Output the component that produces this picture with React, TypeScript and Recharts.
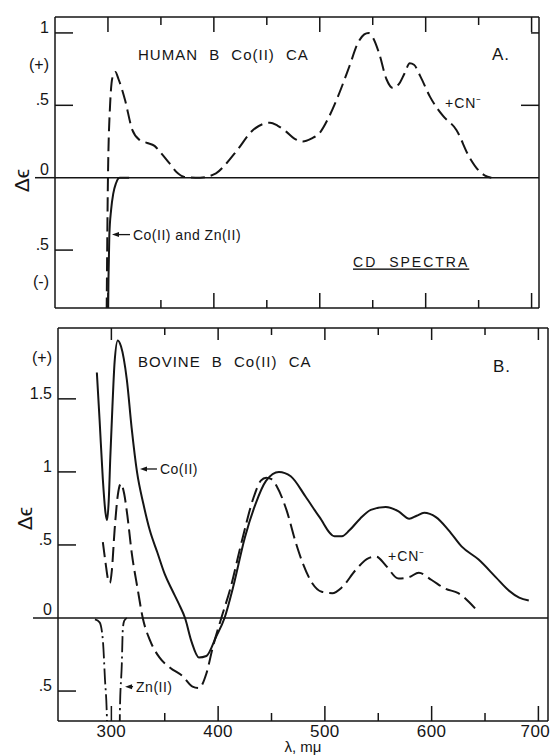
import { Line, LineChart, ReferenceDot, ReferenceLine, XAxis, YAxis } from "recharts";

const FONT = '"Liberation Sans", Arial, sans-serif';
const INK = "#151515";

// wavelength ticks (mμ), shared by both panels
const WL_TICKS = [300, 350, 400, 450, 500, 550, 600, 650, 700];
const [W300, W350, W400, W450, W500, W550, W600, W650, W700] = WL_TICKS;

// --- panel A: human B Co(II) CA ---
const A_Y_TICKS = [1, 0.78, 0.5, 0, -0.5, -0.72];
const A_Y_LABELS = ["1", "(+)", ".5", "0", ".5", "(-)"];

// + CN- (dashed)
const A_CN_WL = [298.5, 300, 302, 304.5, 307, 310, 316, 323, 330, 337, 344, 349, 358, 366, 372, 387, 402, 412, 422, 437, 446, 453, 460, 468, 476, 484, 492, 500, 508, 516, 528, 536, 542, 546, 550, 556, 563, 569, 575, 580, 585, 589, 595, 604, 616, 629, 641, 650, 656, 662];
const A_CN_DE = [-1.2, 0, 0.5, 0.7, 0.73, 0.68, 0.54, 0.33, 0.26, 0.24, 0.22, 0.18, 0.1, 0.03, 0.005, 0, 0.03, 0.1, 0.19, 0.33, 0.37, 0.38, 0.36, 0.32, 0.27, 0.25, 0.27, 0.31, 0.41, 0.54, 0.77, 0.93, 0.99, 1.0, 0.97, 0.86, 0.68, 0.62, 0.65, 0.72, 0.79, 0.78, 0.7, 0.56, 0.43, 0.33, 0.145, 0.05, 0.015, 0];

// Co(II) and Zn(II) (solid)
const A_MET_WL = [299.8, 300.5, 301.3, 303, 305, 307.5, 311, 320];
const A_MET_DE = [-1.2, -0.7, -0.4, -0.22, -0.11, -0.04, 0, 0];

// --- panel B: bovine B Co(II) CA ---
const B_Y_TICKS = [1.78, 1.5, 1, 0.5, 0, -0.5];
const B_Y_LABELS = ["(+)", "1.5", "1", ".5", "0", ".5"];

// Co(II) (solid)
const B_CO_WL = [286.4, 289, 292, 294.5, 296, 297.5, 299, 301, 303, 306, 309, 314.5, 319, 324, 330, 336, 343, 350, 357, 363, 369, 375, 382, 389, 398, 406, 414, 425, 435, 445, 457, 468, 482, 495, 509, 516, 523, 533, 543, 557, 569, 579, 586, 593, 604, 616, 628, 644, 660, 672, 682, 691];
const B_CO_DE = [1.68, 1.35, 0.95, 0.72, 0.67, 0.8, 1.1, 1.45, 1.75, 1.9, 1.86, 1.63, 1.3, 1.0, 0.78, 0.6, 0.45, 0.3, 0.19, 0.1, 0, -0.16, -0.27, -0.26, -0.13, 0, 0.21, 0.55, 0.78, 0.94, 1.0, 0.97, 0.83, 0.69, 0.56, 0.56, 0.6, 0.68, 0.74, 0.76, 0.73, 0.68, 0.7, 0.72, 0.69, 0.6, 0.49, 0.4, 0.28, 0.19, 0.14, 0.12];

// Co(II) + CN- (dashed)
const B_CN_WL = [292, 294.5, 297, 298.6, 300.5, 303, 306, 309, 312, 315, 319, 324.8, 329.4, 336, 345, 355, 367, 376, 382, 389, 395, 403, 411, 423, 433, 440, 445, 450, 455, 464, 473, 479, 488, 497, 507, 516, 529, 541, 548, 557, 569, 579, 588, 600, 613, 625, 635, 642];
const B_CN_DE = [0.52, 0.38, 0.26, 0.24, 0.33, 0.6, 0.84, 0.92, 0.85, 0.7, 0.45, 0.19, 0, -0.15, -0.27, -0.34, -0.4, -0.47, -0.48, -0.38, -0.2, 0, 0.19, 0.55, 0.82, 0.94, 0.96, 0.95, 0.9, 0.74, 0.51, 0.38, 0.24, 0.18, 0.17, 0.21, 0.33, 0.41, 0.42, 0.36, 0.27, 0.28, 0.31, 0.26, 0.2, 0.17, 0.11, 0.055];

// Zn(II) (dash-dot)
const B_ZN_WL = [284.6, 289, 292, 294, 295.8, 297.5, 307, 308, 309.8, 310.7, 312, 314.5];
const B_ZN_DE = [-0.01, -0.03, -0.15, -0.42, -0.68, -1.5, -1.5, -0.63, -0.31, -0.08, -0.02, 0];

const pts = (wl: number[], de: number[]) => wl.map((w, i) => ({ wl: w, de: de[i] }));

const txt = { fontFamily: FONT, fill: INK } as const;

// bottom axis: inward mark, label only on the hundreds (panel B)
function WlTick({ x, y, payload, labels }: any) {
  const px = Number(x);
  const py = Number(y);
  const big = payload.value % 100 === 0;
  return (
    <g>
      <line x1={px} x2={px} y1={py} y2={py - (big ? 15 : 8)} stroke={INK} strokeWidth={1.5} />
      {labels && big && (
        <text x={px} y={py + 16} dx={payload.value === 700 ? -3 : 0} textAnchor="middle" fontSize={17} letterSpacing={0.5} {...txt}>
          {payload.value}
        </text>
      )}
    </g>
  );
}

function DeTick({ x, y, payload, ticks, labels, zeroExt }: any) {
  const label = labels[ticks.indexOf(payload.value)];
  const paren = label.startsWith("(");
  const zero = payload.value === 0;
  const px = Number(x);
  const py = Number(y);
  return (
    <g>
      {zero && <line x1={px - zeroExt} x2={px} y1={py} y2={py} stroke={INK} strokeWidth={1.5} />}
      {!zero && !paren && <line x1={px} x2={px + 18} y1={py} y2={py} stroke={INK} strokeWidth={1.5} />}
      <text x={px - 6} y={zero ? py - 3 : paren ? py + 5 : py} textAnchor="end" fontSize={16} {...txt}>
        {label}
      </text>
    </g>
  );
}

// inward marks on the top frame edge (and right edge for horizontal ones)
const topMark = (len: number) => (p: any) => {
  const hi = Math.min(p.y1, p.y2);
  return <line x1={p.x1} x2={p.x1} y1={hi} y2={hi + len} stroke={INK} strokeWidth={1.5} />;
};
const rightMark = (len: number) => (p: any) => {
  const r = Math.max(p.x1, p.x2);
  return <line x1={r - len} x2={r} y1={p.y1} y2={p.y1} stroke={INK} strokeWidth={1.5} />;
};

function DeTitle({ viewBox, dy }: any) {
  const cx = viewBox.x + viewBox.width - 34;
  const cy = viewBox.y + viewBox.height / 2 + dy;
  return (
    <text transform={`translate(${cx},${cy}) rotate(-90)`} textAnchor="middle" dominantBaseline="central" fontSize={21} {...txt}>
      Δϵ
    </text>
  );
}

function WlTitle({ viewBox }: any) {
  return (
    <text x={viewBox.x + viewBox.width / 2} y={viewBox.y + 31} textAnchor="middle" fontSize={15} {...txt}>
      λ, mμ
    </text>
  );
}

const note = (text: string, size = 15, extra: any = {}) => (p: any) => (
  <text x={p.cx} y={p.cy} fontSize={size} letterSpacing={1} {...txt} {...extra}>
    {text}
  </text>
);

const arrow = (text: string) => (p: any) => (
  <g>
    <line x1={p.x1 + 6} y1={p.y1} x2={p.x2} y2={p.y2} stroke={INK} strokeWidth={1.3} />
    <polygon points={`${p.x1},${p.y1} ${p.x1 + 7},${p.y1 - 2.5} ${p.x1 + 7},${p.y1 + 2.5}`} fill={INK} />
    <text x={p.x2 + 3} y={p.y2 + 5} fontSize={14} letterSpacing={0.5} {...txt}>
      {text}
    </text>
  </g>
);

const axisLine = { stroke: INK, strokeWidth: 1.5 };
const lineBase = { type: "monotone" as const, dataKey: "de", dot: false, stroke: INK, strokeWidth: 2, isAnimationActive: false };
// bottom/left axes are 1px thick so they still render; margins are trimmed by that pixel
const axisX = { type: "number" as const, dataKey: "wl", ticks: WL_TICKS, height: 1, tickSize: 0, tickMargin: 0, allowDataOverflow: true, axisLine };
const axisY = { type: "number" as const, width: 1, tickSize: 0, tickMargin: 0, allowDataOverflow: true, axisLine };

const A_BIG = topMark(15);
const A_SMALL = topMark(8);
const B_BIG = topMark(12);
const B_SMALL = topMark(7);

function PanelA() {
  const xd: [number, number] = [250, 707];
  const yd: [number, number] = [-0.9, 1.11];
  return (
    <LineChart width={553} height={318} margin={{ top: 17, right: 14, bottom: 9, left: 54 }}>
      <XAxis {...axisX} domain={xd} tick={(p: any) => <WlTick {...p} />} />
      <YAxis {...axisY} domain={yd} ticks={A_Y_TICKS}
        tick={(p: any) => <DeTick {...p} ticks={A_Y_TICKS} labels={A_Y_LABELS} zeroExt={20} />}
        label={<DeTitle dy={18} />} />
      <ReferenceLine y={yd[1]} ifOverflow="visible" stroke={INK} strokeWidth={1.5} />
      <ReferenceLine x={xd[1]} ifOverflow="visible" stroke={INK} strokeWidth={1.5} />
      <ReferenceLine x={W300} shape={A_BIG} />
      <ReferenceLine x={W350} shape={A_SMALL} />
      <ReferenceLine x={W400} shape={A_BIG} />
      <ReferenceLine x={W450} shape={A_SMALL} />
      <ReferenceLine x={W500} shape={A_BIG} />
      <ReferenceLine x={W550} shape={A_SMALL} />
      <ReferenceLine x={W600} shape={A_BIG} />
      <ReferenceLine x={W650} shape={A_SMALL} />
      <ReferenceLine x={W700} shape={A_BIG} />
      <ReferenceLine y={1} shape={rightMark(8)} />
      <ReferenceLine y={0.5} shape={rightMark(18)} />
      <ReferenceLine y={0} stroke={INK} strokeWidth={1.5} />
      <Line {...lineBase} data={pts(A_CN_WL, A_CN_DE)} strokeDasharray="14 6" />
      <Line {...lineBase} data={pts(A_MET_WL, A_MET_DE)} />
      <ReferenceDot x={328.4} y={0.814} r={0} shape={note("HUMAN B Co(II) CA", 15, { wordSpacing: 6 })} />
      <ReferenceDot x={662.6} y={0.814} r={0} shape={note("A.", 17)} />
      <ReferenceDot x={618.3} y={0.48} r={0} shape={note("+CN⁻", 14)} />
      <ReferenceDot x={531.4} y={-0.62} r={0} shape={note("CD SPECTRA", 14, { letterSpacing: 2, wordSpacing: 6, textDecoration: "underline" })} />
      <ReferenceLine segment={[{ x: 303.8, y: -0.393 }, { x: 320.8, y: -0.393 }]} shape={arrow("Co(II) and Zn(II)")} />
    </LineChart>
  );
}

function PanelB() {
  const xd: [number, number] = [250, 709];
  const yd: [number, number] = [-0.705, 1.985];
  return (
    <LineChart width={553} height={438} margin={{ top: 10, right: 5, bottom: 34, left: 57 }}>
      <XAxis {...axisX} domain={xd} tick={(p: any) => <WlTick {...p} labels />} label={<WlTitle />} />
      <YAxis {...axisY} domain={yd} ticks={B_Y_TICKS}
        tick={(p: any) => <DeTick {...p} ticks={B_Y_TICKS} labels={B_Y_LABELS} zeroExt={25} />}
        label={<DeTitle dy={-6} />} />
      <ReferenceLine y={yd[1]} ifOverflow="visible" stroke={INK} strokeWidth={1.5} />
      <ReferenceLine x={xd[1]} ifOverflow="visible" stroke={INK} strokeWidth={1.5} />
      <ReferenceLine x={W300} shape={B_BIG} />
      <ReferenceLine x={W350} shape={B_SMALL} />
      <ReferenceLine x={W400} shape={B_BIG} />
      <ReferenceLine x={W450} shape={B_SMALL} />
      <ReferenceLine x={W500} shape={B_BIG} />
      <ReferenceLine x={W550} shape={B_SMALL} />
      <ReferenceLine x={W600} shape={B_BIG} />
      <ReferenceLine x={W650} shape={B_SMALL} />
      <ReferenceLine x={W700} shape={B_BIG} />
      <ReferenceLine y={0} stroke={INK} strokeWidth={1.5} />
      <Line {...lineBase} data={pts(B_CO_WL, B_CO_DE)} />
      <Line {...lineBase} data={pts(B_CN_WL, B_CN_DE)} strokeDasharray="15 6" />
      <Line {...lineBase} data={pts(B_ZN_WL, B_ZN_DE)} strokeDasharray="16 4 2 4" strokeWidth={1.8} />
      <ReferenceDot x={324.9} y={1.719} r={0} shape={note("BOVINE B Co(II) CA", 15, { wordSpacing: 6 })} />
      <ReferenceDot x={657.5} y={1.685} r={0} shape={note("B.", 17)} />
      <ReferenceDot x={559.1} y={0.39} r={0} shape={note("+CN⁻", 14)} />
      <ReferenceLine segment={[{ x: 326.8, y: 1.02 }, { x: 342.7, y: 1.02 }]} shape={arrow("Co(II)")} />
      <ReferenceLine segment={[{ x: 312.8, y: -0.47 }, { x: 320.3, y: -0.47 }]} shape={arrow("Zn(II)")} />
    </LineChart>
  );
}

export default function App() {
  return (
    <div style={{ position: "fixed", left: 0, top: 0, width: 553, height: 756, background: "#fff", overflow: "hidden" }}>
      <div style={{ position: "absolute", left: 0, top: 0 }}>
        <PanelA />
      </div>
      <div style={{ position: "absolute", left: 0, top: 318 }}>
        <PanelB />
      </div>
    </div>
  );
}
